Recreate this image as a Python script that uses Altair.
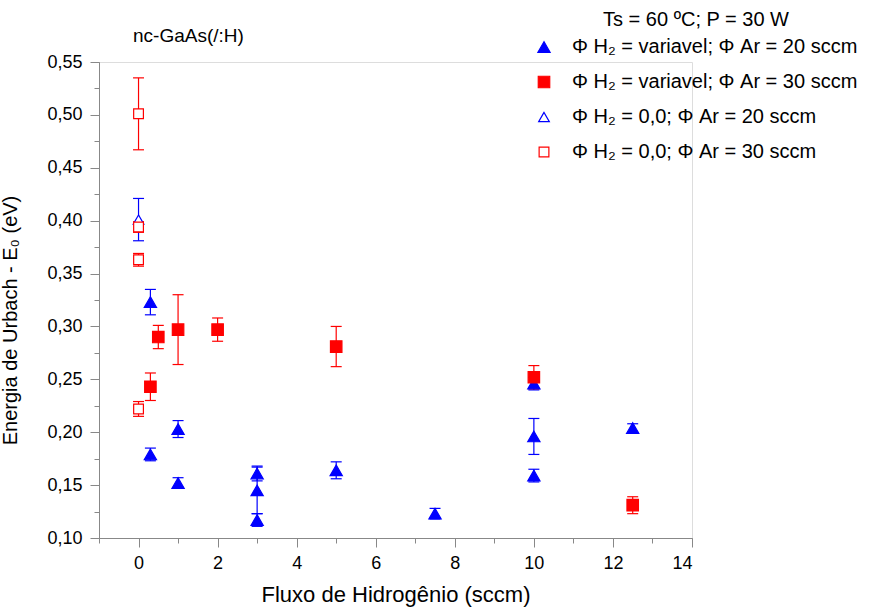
import altair as alt
import pandas as pd

# ---- data ----
S1 = "Φ H₂ = variavel; Φ Ar = 20 sccm"
S2 = "Φ H₂ = variavel; Φ Ar = 30 sccm"
S3 = "Φ H₂ = 0,0; Φ Ar = 20 sccm"
S4 = "Φ H₂ = 0,0; Φ Ar = 30 sccm"
series_names = [S1, S2, S3, S4]

x_var20 = [0.3, 0.3, 1, 1, 3, 3, 3, 5, 7.5, 10, 10, 10, 12.5]
y_var20 = [0.323, 0.179, 0.203, 0.152, 0.161, 0.145, 0.117, 0.164, 0.123, 0.246, 0.196, 0.159, 0.204]
e_var20 = [0.012, 0.006, 0.008, 0.005, 0.007, 0.022, 0.006, 0.008, 0.005, 0.006, 0.017, 0.006, 0.004]

x_var30 = [0.3, 0.5, 1, 2, 5, 10, 12.5]
y_var30 = [0.243, 0.290, 0.297, 0.297, 0.281, 0.252, 0.131]
e_var30 = [0.013, 0.011, 0.033, 0.011, 0.019, 0.011, 0.008]

x_h0_20 = [0]
y_h0_20 = [0.401]
e_h0_20 = [0.020]

x_h0_30 = [0, 0, 0, 0]
y_h0_30 = [0.501, 0.394, 0.363, 0.222]
e_h0_30 = [0.034, 0.005, 0.006, 0.007]

x_major = [0, 2, 4, 6, 8, 10, 12, 14]
x_minor = [-1, 1, 3, 5, 7, 9, 11, 13]
y_major = [0.10, 0.15, 0.20, 0.25, 0.30, 0.35, 0.40, 0.45, 0.50, 0.55]
y_minor = [0.125, 0.175, 0.225, 0.275, 0.325, 0.375, 0.425, 0.475, 0.525]

frames = []
for name, xs, ys, es in [(S1, x_var20, y_var20, e_var20),
                         (S2, x_var30, y_var30, e_var30),
                         (S3, x_h0_20, y_h0_20, e_h0_20),
                         (S4, x_h0_30, y_h0_30, e_h0_30)]:
    frames.append(pd.DataFrame({"series": name, "x": xs, "y": ys, "err": es}))
df = pd.concat(frames, ignore_index=True)
df["lo"] = df["y"] - df["err"]
df["hi"] = df["y"] + df["err"]

FONT = "Liberation Sans"

xscale = alt.Scale(domain=[-1, 14], nice=False, zero=False)
yscale = alt.Scale(domain=[0.10, 0.55], nice=False, zero=False)
label_expr = "replace(format(datum.value, '.2f'), '.', ',')"

x_major_axis = alt.Axis(values=x_major, tickSize=9, labelFontSize=18, labelFont=FONT, grid=False,
                        title="Fluxo de Hidrogênio (sccm)", titleFontSize=22, titleFont=FONT,
                        titleFontWeight="normal", titlePadding=12, labelPadding=7, orient="bottom")
y_major_axis = alt.Axis(values=y_major, tickSize=9, labelFontSize=18, labelFont=FONT, grid=False,
                        labelExpr=label_expr,
                        title="Energia de Urbach - E₀ (eV)", titleFontSize=20, titleFont=FONT,
                        titleFontWeight="normal", titlePadding=26, labelPadding=8, orient="left",
                        titleY=258)
x_minor_axis = alt.Axis(values=x_minor, tickSize=5, labels=False, title=None, orient="bottom", grid=False)
y_minor_axis = alt.Axis(values=y_minor, tickSize=5, labels=False, title=None, orient="left", grid=False)

legend = alt.Legend(
    orient="none", legendX=435, legendY=-52,
    title="Ts = 60 ºC; P = 30 W", titleAnchor="middle", titleLimit=400,
    titleFont=FONT, titleFontSize=20, titleFontWeight="normal", titleColor="black",
    labelFont=FONT, labelFontSize=20, labelColor="black",
    symbolStrokeWidth=1.2, rowPadding=15, labelOffset=18,
    titlePadding=7, padding=0, labelLimit=400,
)

stroke_enc = alt.Stroke("series:N", scale=alt.Scale(domain=series_names,
                        range=["#0000ff", "#ff0000", "#0000ff", "#ff0000"]), legend=legend)

base = alt.Chart(df)

rules = base.mark_rule(strokeWidth=1.2).encode(
    x=alt.X("x:Q", scale=xscale, axis=x_major_axis),
    y=alt.Y("lo:Q", scale=yscale, axis=y_major_axis),
    y2="hi:Q",
    stroke=stroke_enc,
)

caps_hi = base.mark_rule(strokeWidth=1.2, xOffset=-5.5, x2Offset=5.5).encode(
    x=alt.X("x:Q", scale=xscale, axis=None),
    x2="x:Q",
    y=alt.Y("hi:Q", scale=yscale, axis=None),
    stroke=stroke_enc,
)
caps_lo = base.mark_rule(strokeWidth=1.2, xOffset=-5.5, x2Offset=5.5).encode(
    x=alt.X("x:Q", scale=xscale, axis=None),
    x2="x:Q",
    y=alt.Y("lo:Q", scale=yscale, axis=None),
    stroke=stroke_enc,
)

points = base.mark_point(opacity=1, strokeWidth=1.2).encode(
    x=alt.X("x:Q", scale=xscale, axis=x_minor_axis),
    y=alt.Y("y:Q", scale=yscale, axis=y_minor_axis),
    shape=alt.Shape("series:N", scale=alt.Scale(domain=series_names,
                    range=["triangle-up", "square", "triangle-up", "square"]), legend=legend),
    fill=alt.Fill("series:N", scale=alt.Scale(domain=series_names,
                  range=["#0000ff", "#ff0000", "#ffffff", "#ffffff"]), legend=legend),
    stroke=stroke_enc,
    size=alt.Size("series:N", scale=alt.Scale(domain=series_names,
                  range=[150, 95, 170, 95]), legend=legend),
)

chart = alt.layer(rules, caps_lo, caps_hi, points).resolve_axis(
    x="independent", y="independent"
).properties(
    width=593, height=476,
    autosize=alt.AutoSizeParams(type="none"),
    padding={"left": 99, "top": 62, "right": 177, "bottom": 73},
    title=alt.TitleParams("nc-GaAs(/:H)", anchor="start", dx=34, offset=-36, fontSize=19,
                          font=FONT, fontWeight="normal", color="black", frame="group"),
).configure_axis(
    grid=False, domainColor="black", domainWidth=1.5, tickColor="black", tickWidth=1.5,
    labelColor="black", titleColor="black",
).configure_view(strokeWidth=0).configure(background="white")

chart.save("out.html", embed_options={"renderer": "svg", "actions": False})
